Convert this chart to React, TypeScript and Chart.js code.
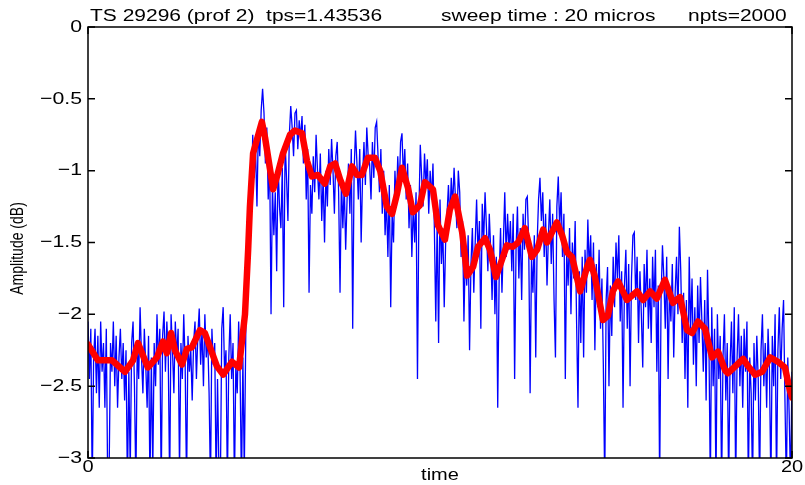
import { useEffect, useRef } from "react";
import { Chart, registerables } from "chart.js";

Chart.register(...registerables);

const FONT = '"Liberation Sans", Arial, Helvetica, sans-serif';
// Text in this figure is wider than it is tall
const TEXT_STRETCH = 1.25;

// Header pieces printed above the frame
const headerParts = ["TS 29296 (prof 2)  tps=1.43536", "sweep time : 20 micros", "npts=2000"];

const xAxisTicks = [0, 20];
const xAxisTickLabels = ["0", "20"];
const yAxisTicks = [0, -0.5, -1, -1.5, -2, -2.5, -3];
const yAxisTickLabels = ["0", "\u22120.5", "\u22121", "\u22121.5", "\u22122", "\u22122.5", "\u22123"];
const xAxisTitle = "time";
const yAxisTitle = "Amplitude (dB)";

// Raw trace (dB), sampled evenly over the 0..20 sweep, split in 4-unit stretches
const rawStretch1 = [
  -2.05, -2.45, -2.1, -3.2, -2.3, -2.1, -2.55, -2.15, -2.65, -2.05,
  -2.4, -2.2, -2.65, -2.1, -3.2, -3.1, -2.2, -2.4, -2.05, -2.5,
  -2.15, -2.65, -2.3, -2.1, -2.45, -2.2, -2.6, -2.25, -3.2, -2.4,
  -3.1, -2.2, -2.05, -2.5, -3.2, -2.2, -2.45, -1.95, -2.3, -2.55,
  -2.1, -2.35, -2.65, -2.15, -3.2, -2.3, -3.1, -2.2, -2.5, -2.0,
  -2.35, -2.1, -3.2, -2.15, -1.98, -2.4, -2.05, -2.3, -3.2, -2.0,
  -2.25, -2.55, -2.05, -2.3, -2.1, -3.1, -2.2, -2.45, -2.0, -2.35,
  -3.2, -2.15, -2.4, -2.25, -2.6, -2.2, -2.05, -2.45, -2.15, -1.96,
  -2.35, -2.1, -2.5, -2.0, -2.3, -2.15, -2.55, -3.2, -2.1, -2.35,
  -2.2, -3.2, -2.45, -3.1, -3.2, -2.1, -1.95, -2.4, -2.25, -3.2,
];
const rawStretch2 = [
  -2.3, -2.0, -2.45, -2.2, -3.2, -2.35, -2.55, -2.05, -2.4, -3.2,
  -2.3, -3.1, -2.2, -1.35, -1.7, -1.0, -1.2, -0.75, -1.05, -0.85,
  -1.25, -0.7, -0.9, -0.58, -0.43, -0.6, -0.95, -0.7, -1.2, -0.9,
  -2.0, -1.1, -1.45, -1.15, -1.7, -0.95, -1.25, -1.4, -0.98, -1.95,
  -0.8, -1.05, -1.35, -0.75, -0.55, -0.7, -0.9, -0.6, -0.58, -0.85,
  -0.65, -0.78, -0.62, -0.95, -0.68, -1.2, -0.85, -1.85, -1.1, -1.3,
  -0.9, -1.15, -0.75, -1.0, -1.2, -0.88, -1.35, -1.05, -1.5, -1.0,
  -1.25, -0.85, -1.1, -0.78, -1.0, -1.3, -0.9, -0.8, -1.15, -1.85,
  -1.05, -1.4, -1.1, -1.55, -1.2, -0.95, -1.3, -0.85, -2.1, -1.0,
  -0.72, -0.95, -1.2, -0.85, -1.5, -1.05, -0.8, -1.1, -0.7, -0.9,
];
const rawStretch3 = [
  -0.95, -1.2, -0.8, -1.05, -0.7, -0.66, -0.9, -1.15, -0.85, -1.3,
  -1.0, -1.45, -1.2, -1.6, -1.1, -1.95, -1.3, -1.5, -1.0, -1.25,
  -0.9, -1.15, -0.8, -0.74, -1.05, -0.85, -1.2, -0.95, -1.4, -1.1,
  -1.6, -1.25, -1.5, -1.15, -2.45, -1.3, -0.82, -1.05, -1.25, -0.88,
  -1.1, -0.92, -1.3, -1.0, -1.2, -0.95, -1.4, -2.05, -1.35, -2.2,
  -1.2, -1.65, -1.4, -1.95, -1.5, -1.3, -1.1, -1.35, -1.05, -1.25,
  -0.98, -1.2, -1.4, -1.0, -1.15, -1.6, -1.35, -2.05, -1.55, -1.8,
  -1.45, -2.25, -1.65, -1.4, -1.85, -1.5, -1.2, -1.6, -1.35, -2.1,
  -1.23, -1.5, -1.15, -1.4, -1.7, -1.3, -1.55, -1.9, -1.45, -2.0,
  -1.6, -2.65, -1.75, -1.4, -1.85, -1.5, -1.15, -1.6, -1.3, -1.55,
];
const rawStretch4 = [
  -1.35, -1.7, -1.3, -2.45, -1.55, -1.25, -1.75, -1.4, -1.9, -1.3,
  -1.55, -1.2, -1.18, -1.5, -2.55, -1.6, -1.85, -1.45, -2.3, -1.5,
  -1.2, -1.05, -1.35, -1.15, -1.6, -1.3, -1.8, -1.45, -1.2, -1.65,
  -1.3, -1.9, -2.3, -1.25, -1.04, -1.4, -1.15, -1.6, -1.3, -2.45,
  -1.55, -1.8, -1.4, -2.0, -1.5, -1.75, -1.35, -2.05, -2.65, -1.7,
  -2.2, -1.6, -2.3, -1.55, -1.85, -1.34, -1.7, -1.45, -1.9, -1.5,
  -2.25, -1.65, -1.95, -1.55, -2.1, -1.75, -2.35, -3.2, -1.9, -1.67,
  -2.5, -1.8, -2.15, -1.6, -1.95, -1.5, -1.75, -1.45, -2.05, -1.7,
  -2.65, -1.8, -1.55, -2.1, -1.65, -2.5, -1.75, -1.45, -1.43, -1.9,
  -1.6, -2.2, -1.7, -2.0, -2.37, -1.65, -1.95, -1.55, -2.1, -1.75,
];
const rawStretch5 = [
  -2.2, -1.6, -1.95, -1.55, -2.4, -1.8, -3.2, -1.9, -1.52, -1.75,
  -2.1, -1.6, -2.45, -1.8, -2.05, -1.65, -2.3, -1.85, -1.6, -2.0,
  -1.39, -1.7, -2.2, -1.85, -2.45, -1.9, -2.65, -1.6, -2.1, -1.75,
  -2.35, -1.95, -2.5, -1.8, -2.2, -1.74, -2.05, -2.4, -1.9, -2.6,
  -1.69, -2.2, -3.2, -1.95, -2.5, -2.1, -3.2, -2.0, -2.45, -2.15,
  -3.2, -2.3, -2.0, -2.6, -2.2, -3.2, -2.35, -2.05, -2.55, -1.95,
  -3.2, -2.3, -2.0, -2.5, -2.15, -2.65, -2.1, -2.4, -2.05, -3.2,
  -2.3, -2.55, -3.2, -2.2, -2.6, -2.15, -2.45, -3.2, -2.25, -2.0,
  -2.5, -2.2, -2.65, -2.1, -2.4, -3.2, -2.15, -2.5, -2.0, -3.2,
  -2.25, -1.95, -2.45, -2.1, -1.9, -2.6, -3.2, -2.3, -2.7, -3.2,
  -2.4,
];

// Smoothed trace (dB) and its time stamps
const smoothTime = [
  0, 0.28, 0.68, 1.05, 1.28, 1.42, 1.7, 1.96, 2.13, 2.24,
  2.36, 2.47, 2.67, 2.81, 2.95, 3.18, 3.32, 3.66, 3.84, 4.09,
  4.29, 4.4, 4.46, 4.55, 4.6, 4.69, 4.94, 5.03, 5.26, 5.37,
  5.54, 5.74, 5.88, 6.08, 6.22, 6.36, 6.53, 6.73, 6.88, 7.02,
  7.16, 7.33, 7.5, 7.64, 7.78, 7.95, 8.15, 8.3, 8.49, 8.64,
  8.78, 8.92, 9.09, 9.23, 9.43, 9.57, 9.8, 9.94, 10.14, 10.28,
  10.43, 10.63, 10.77, 10.94, 11.08, 11.28, 11.42, 11.59, 11.76, 11.9,
  12.07, 12.22, 12.41, 12.61, 12.76, 12.93, 13.04, 13.32, 13.47, 13.61,
  13.75, 13.98, 14.18, 14.26, 14.4, 14.63, 14.77, 14.91, 15.06, 15.31,
  15.6, 15.77, 15.97, 16.16, 16.39, 16.62, 16.82, 17.02, 17.16, 17.33,
  17.53, 17.73, 17.9, 18.1, 18.18, 18.44, 18.61, 18.75, 18.95, 19.15,
  19.38, 19.6, 19.8, 19.94, 20.0,
];
const smoothAmp = [
  -2.21, -2.32, -2.32, -2.4, -2.32, -2.2, -2.37, -2.3, -2.19, -2.27,
  -2.13, -2.25, -2.35, -2.24, -2.23, -2.11, -2.13, -2.36, -2.42, -2.33,
  -2.37, -2.13, -2.0, -1.55, -1.25, -0.88, -0.66, -0.77, -1.13, -1.04,
  -0.88, -0.75, -0.72, -0.74, -0.93, -1.04, -1.03, -1.09, -0.97, -0.95,
  -1.06, -1.16, -0.97, -1.03, -1.03, -0.91, -0.91, -1.0, -1.25, -1.3,
  -1.16, -0.98, -1.12, -1.29, -1.24, -1.08, -1.13, -1.38, -1.48, -1.27,
  -1.18, -1.43, -1.73, -1.67, -1.53, -1.47, -1.55, -1.74, -1.62, -1.52,
  -1.53, -1.5, -1.4, -1.6, -1.55, -1.41, -1.5, -1.36, -1.45, -1.57,
  -1.6, -1.84, -1.67, -1.62, -1.74, -2.04, -2.01, -1.84, -1.77, -1.9,
  -1.84, -1.9, -1.84, -1.89, -1.76, -1.92, -1.88, -2.11, -2.13, -2.05,
  -2.1, -2.3, -2.26, -2.39, -2.41, -2.35, -2.31, -2.36, -2.42, -2.4,
  -2.3, -2.33, -2.37, -2.53, -2.58,
];

const SWEEP = 20;

function wideText(
  ctx: CanvasRenderingContext2D,
  text: string,
  x: number,
  y: number,
  align: CanvasTextAlign,
  baseline: CanvasTextBaseline,
  size: number,
  rotate = 0
) {
  ctx.save();
  ctx.translate(x, y);
  if (rotate) {
    ctx.rotate(rotate);
    ctx.scale(1, TEXT_STRETCH);
  } else {
    ctx.scale(TEXT_STRETCH, 1);
  }
  ctx.font = `${size}px ${FONT}`;
  ctx.textAlign = align;
  ctx.textBaseline = baseline;
  ctx.fillText(text, 0, 0);
  ctx.restore();
}

// Frame with inward tick marks on all sides, tick labels, axis titles and header
const framePlugin = {
  id: "frameAndHeader",
  afterDatasetsDraw(chart: any) {
    const { ctx, chartArea: a, scales } = chart;
    const tickLen = 7;
    ctx.save();
    ctx.strokeStyle = "#000";
    ctx.lineWidth = 1.5;
    ctx.strokeRect(a.left, a.top, a.right - a.left, a.bottom - a.top);
    ctx.beginPath();
    for (const t of scales.y.ticks) {
      const py = scales.y.getPixelForValue(t.value);
      ctx.moveTo(a.left, py);
      ctx.lineTo(a.left + tickLen, py);
      ctx.moveTo(a.right, py);
      ctx.lineTo(a.right - tickLen, py);
    }
    for (const t of scales.x.ticks) {
      const px = scales.x.getPixelForValue(t.value);
      ctx.moveTo(px, a.bottom);
      ctx.lineTo(px, a.bottom - tickLen);
      ctx.moveTo(px, a.top);
      ctx.lineTo(px, a.top + tickLen);
    }
    ctx.stroke();

    ctx.fillStyle = "#000";
    scales.y.ticks.forEach((t: any) => {
      const k = yAxisTicks.indexOf(t.value);
      const label = k >= 0 ? yAxisTickLabels[k] : String(t.value);
      wideText(ctx, label, a.left - 6, scales.y.getPixelForValue(t.value), "right", "middle", 17);
    });
    scales.x.ticks.forEach((t: any) => {
      const k = xAxisTicks.indexOf(t.value);
      const label = k >= 0 ? xAxisTickLabels[k] : String(t.value);
      wideText(ctx, label, scales.x.getPixelForValue(t.value), a.bottom + 2, "center", "top", 16);
    });
    wideText(ctx, xAxisTitle, (a.left + a.right) / 2, 476, "center", "middle", 16);
    wideText(ctx, yAxisTitle, 18, (a.top + a.bottom) / 2 + 6, "center", "middle", 14, -Math.PI / 2);

    const starts = [90, 441, 688];
    headerParts.forEach((s, i) => wideText(ctx, s, starts[i], 21, "left", "alphabetic", 16.8));
    ctx.restore();
  },
};

export default function App() {
  const canvasRef = useRef<HTMLCanvasElement | null>(null);

  useEffect(() => {
    const canvas = canvasRef.current;
    if (!canvas) return;

    const raw = [...rawStretch1, ...rawStretch2, ...rawStretch3, ...rawStretch4, ...rawStretch5];
    const rawPoints = raw.map((v, i) => ({ x: (i * SWEEP) / (raw.length - 1), y: v }));
    const smoothPoints = smoothTime.map((t, i) => ({ x: t, y: smoothAmp[i] }));

    const chart = new Chart(canvas, {
      type: "line",
      data: {
        datasets: [
          {
            label: "smoothed",
            data: smoothPoints,
            borderColor: "#ff0000",
            borderWidth: 6.5,
            borderJoinStyle: "round",
            borderCapStyle: "round",
            pointRadius: 0,
            tension: 0,
            order: 0,
          },
          {
            label: "raw",
            data: rawPoints,
            borderColor: "#0000ff",
            borderWidth: 1.3,
            pointRadius: 0,
            tension: 0,
            order: 1,
          },
        ],
      },
      options: {
        animation: false,
        responsive: false,
        events: [],
        layout: { padding: { left: 0, right: 13, top: 27, bottom: 0 } },
        plugins: {
          legend: { display: false },
          tooltip: { enabled: false },
          title: { display: false },
        },
        scales: {
          x: {
            type: "linear",
            min: 0,
            max: SWEEP,
            afterBuildTicks: (s: any) => {
              s.ticks = xAxisTicks.map((v) => ({ value: v }));
            },
            afterFit: (s: any) => {
              s.height = 27;
              s.paddingLeft = 0;
              s.paddingRight = 0;
            },
            grid: { display: false, drawTicks: false },
            border: { display: false },
            ticks: { display: false },
            title: { display: false },
          },
          y: {
            type: "linear",
            min: -3,
            max: 0,
            afterBuildTicks: (s: any) => {
              s.ticks = yAxisTicks.map((v) => ({ value: v }));
            },
            afterFit: (s: any) => {
              s.width = 88;
            },
            grid: { display: false, drawTicks: false },
            border: { display: false },
            ticks: { display: false },
            title: { display: false },
          },
        },
      },
      plugins: [framePlugin],
    } as any);

    return () => chart.destroy();
  }, []);

  return (
    <div style={{ position: "fixed", left: 0, top: 0, width: 805, height: 485, background: "#fff" }}>
      <canvas ref={canvasRef} width={805} height={485} style={{ display: "block" }} />
    </div>
  );
}
